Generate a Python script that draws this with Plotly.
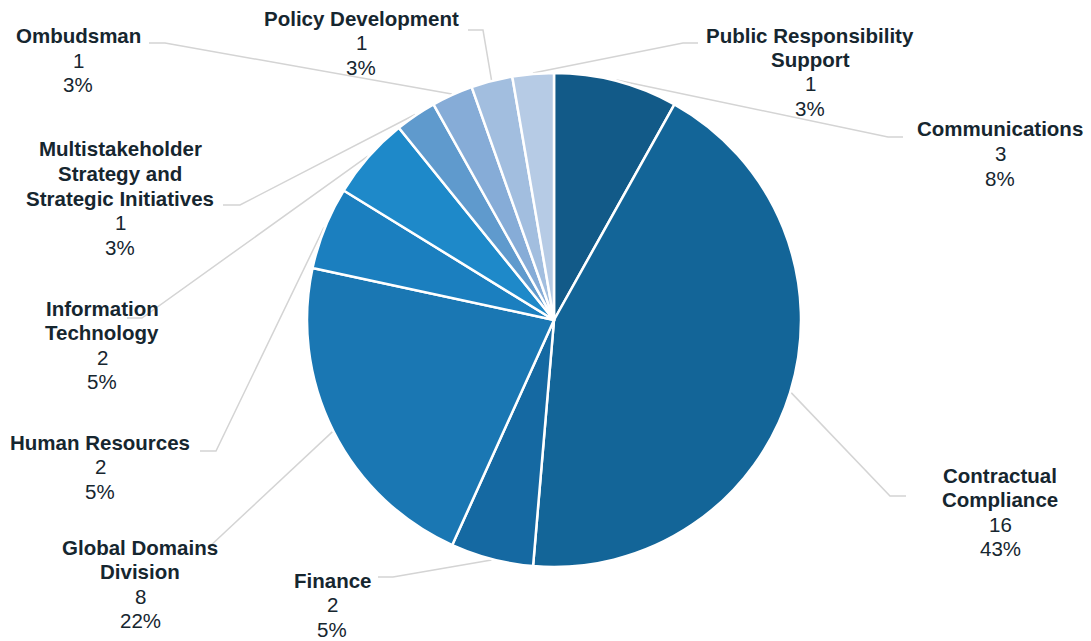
import math
import plotly.graph_objects as go

# ---- data ----
categories = ["Communications", "Contractual Compliance", "Finance", "Global Domains Division",
              "Human Resources", "Information Technology",
              "Multistakeholder Strategy and Strategic Initiatives", "Ombudsman",
              "Policy Development", "Public Responsibility Support"]
counts = [3, 16, 2, 8, 2, 2, 1, 1, 1, 1]
label_lines = [["Communications"], ["Contractual", "Compliance"], ["Finance"],
               ["Global Domains", "Division"], ["Human Resources"], ["Information", "Technology"],
               ["Multistakeholder", "Strategy and", "Strategic Initiatives"], ["Ombudsman"],
               ["Policy Development"], ["Public Responsibility", "Support"]]
colors = ["#125a88", "#136598", "#1569a2", "#1a77b3", "#1b7fbf", "#1e89c9",
          "#5f9acd", "#86acd7", "#a2bedf", "#b6cbe5"]

# ---- layout constants (pixels) ----
W, H = 1091, 641
CX, CY, R = 554, 320, 247
# label block: (center x, first-line center y)
label_pos = [(1000, 129), (1000, 475), (332, 580), (140, 547), (100, 442), (102, 308),
             (120, 149), (78, 36), (361, 18), (810, 35)]
# leader line: elbow point, end point
leader = [((888, 137), (903, 137)), ((890, 496), (906, 496)), ((393, 577), (378, 577)),
          ((208, 548), (208, 548)), ((216, 451), (200, 451)), ((142, 318), (127, 318)),
          ((240, 205), (223, 205)), ((165, 43), (149, 43)), ((483, 30), (468, 30)),
          ((683, 43), (698, 43))]
LINE_H = 24.5
FONT = "Liberation Sans, Arial, sans-serif"


def px(x):
    return x / W


def py(y):
    return 1 - y / H


fig = go.Figure(go.Pie(
    labels=categories, values=counts, sort=False, direction="clockwise", rotation=0,
    marker=dict(colors=colors, line=dict(color="white", width=2.5)),
    textinfo="none", hoverinfo="label+value+percent", showlegend=False,
    domain=dict(x=[px(CX - R), px(CX + R)], y=[py(CY + R), py(CY - R)]),
))

total = sum(counts)
cum = 0
shapes = []
annotations = []
for i, v in enumerate(counts):
    mid = (cum + v / 2) / total * 2 * math.pi
    cum += v
    sx = CX + (R + 1) * math.sin(mid)
    sy = CY - (R + 1) * math.cos(mid)
    (ex, ey), (fx, fy) = leader[i]
    path = f"M {px(sx)},{py(sy)} L {px(ex)},{py(ey)} L {px(fx)},{py(fy)}"
    shapes.append(dict(type="path", xref="paper", yref="paper", path=path,
                       line=dict(color="#d4d4d4", width=1.5), layer="below"))
    lx, ly = label_pos[i]
    pct = round(v / total * 100)
    lines = [f"<b>{t}</b>" for t in label_lines[i]] + [str(v), f"{pct}%"]
    for k, t in enumerate(lines):
        annotations.append(dict(x=px(lx), y=py(ly + k * LINE_H), xref="paper", yref="paper",
                                text=t, showarrow=False, xanchor="center", yanchor="middle",
                                font=dict(family=FONT, size=20.5, color="#16262f")))

fig.update_layout(
    width=W, height=H, margin=dict(l=0, r=0, t=0, b=0),
    paper_bgcolor="white", plot_bgcolor="white",
    shapes=shapes, annotations=annotations,
)
fig.write_html("out.html", config={"displayModeBar": False},
               post_script="document.body.style.margin='0';document.body.style.overflow='hidden';")
